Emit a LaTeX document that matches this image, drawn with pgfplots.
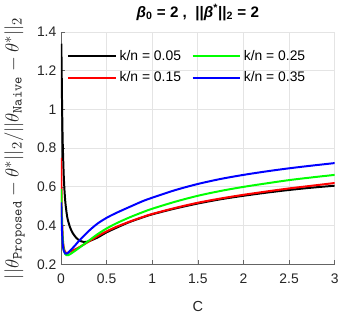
\documentclass[border=0pt]{standalone}
\usepackage{pgfplots}
\pgfplotsset{compat=1.18}
\usepackage{fontspec}
\setmainfont{Liberation Sans}
\definecolor{gridgray}{RGB}{228,228,228}
\definecolor{axgray}{RGB}{100,100,100}
\definecolor{lblgray}{RGB}{38,38,38}

\begin{document}
\begin{tikzpicture}
\begin{axis}[
    scale only axis,
    width=207pt, height=175.5pt,
    xmin=0, xmax=3, ymin=0.2, ymax=1.4,
    xtick={0,0.5,...,3},
    ytick={0.2,0.4,...,1.4},
    xticklabels={0,0.5,1,1.5,2,2.5,3},
    yticklabels={0.2,0.4,0.6,0.8,1,1.2,1.4},
    axis x line*=bottom, axis y line*=left,
    axis line style={axgray, line width=0.6pt},
    tick style={axgray, line width=0.5pt},
    tick align=inside,
    major tick length=3pt,
    grid=major,
    grid style={gridgray, line width=0.6pt},
    ticklabel style={font=\fontsize{10.5}{12}\selectfont, text=lblgray},
    xticklabel style={yshift=-3.5pt},
    /pgf/number format/assume math mode=true,
    xlabel={C},
    xlabel style={font=\fontsize{11}{13}\selectfont, text=lblgray, yshift=-7pt},
    ylabel={$||\theta_{\mathtt{Proposed}} - \theta^{*}||_2/||\theta_{\mathtt{Naive}} - \theta^{*}||_2$},
    ylabel style={font=\fontsize{15}{17}\selectfont, text=lblgray, yshift=2.5pt},
    title={\textbf{\textit{β}\textsubscript{0} = 2 ,\ \ ||\textit{β}\textsuperscript{*}||\textsubscript{2} = 2}},
    title style={font=\fontsize{11.5}{13}\selectfont, yshift=-1pt},
    legend columns=2,
    transpose legend,
    legend style={at={(0.008,0.945)}, anchor=north west, draw=none, fill=none,
        font=\fontsize{10.5}{12}\selectfont, row sep=3pt,
        /tikz/every even column/.append style={column sep=6pt}},
    legend cell align=left,
    legend image code/.code={\draw[#1] (0pt,0pt) -- (36pt,0pt);},
    every axis plot/.append style={line width=1.5pt, smooth, tension=0.5},
]
% k/n = 0.05
\addplot[black] coordinates {
 (0.004,1.34) (0.008,1.18) (0.012,1.02) (0.016,0.9) (0.02,0.81) (0.03,0.66)
 (0.04,0.57) (0.05,0.51) (0.07,0.44) (0.1,0.39) (0.13,0.36) (0.17,0.335)
 (0.2,0.323) (0.25,0.315) (0.3,0.318) (0.4,0.338) (0.5,0.365) (0.6,0.387)
 (0.75,0.418) (0.9,0.443) (1,0.458) (1.25,0.488) (1.5,0.514) (1.75,0.536)
 (2,0.554) (2.25,0.57) (2.5,0.584) (2.75,0.596) (3,0.606)
};
% k/n = 0.15
\addplot[red] coordinates {
 (0.002,0.75) (0.006,0.58) (0.01,0.46) (0.02,0.335) (0.03,0.288) (0.045,0.264)
 (0.06,0.258) (0.08,0.26) (0.1,0.265) (0.15,0.276) (0.2,0.288) (0.3,0.316)
 (0.4,0.345) (0.5,0.37) (0.6,0.392) (0.75,0.42) (0.9,0.445) (1,0.46)
 (1.25,0.491) (1.5,0.518) (1.75,0.54) (2,0.559) (2.25,0.576) (2.5,0.592)
 (2.75,0.606) (3,0.62)
};
% k/n = 0.25
\addplot[green] coordinates {
 (0.002,0.59) (0.006,0.49) (0.01,0.42) (0.02,0.32) (0.03,0.277) (0.045,0.254)
 (0.06,0.247) (0.08,0.247) (0.1,0.252) (0.15,0.268) (0.2,0.285) (0.3,0.32)
 (0.4,0.355) (0.5,0.385) (0.6,0.41) (0.75,0.442) (0.9,0.47) (1,0.487)
 (1.25,0.523) (1.5,0.554) (1.75,0.579) (2,0.6) (2.25,0.618) (2.5,0.635)
 (2.75,0.649) (3,0.662)
};
% k/n = 0.35
\addplot[blue] coordinates {
 (0.002,0.52) (0.006,0.44) (0.01,0.38) (0.02,0.3) (0.03,0.27) (0.045,0.256)
 (0.06,0.255) (0.08,0.26) (0.1,0.27) (0.15,0.295) (0.2,0.322) (0.3,0.37)
 (0.4,0.41) (0.5,0.44) (0.6,0.464) (0.75,0.496) (0.9,0.527) (1,0.544)
 (1.25,0.583) (1.5,0.615) (1.75,0.641) (2,0.662) (2.25,0.68) (2.5,0.696)
 (2.75,0.71) (3,0.723)
};
\legend{k/n = 0.05, k/n = 0.15, k/n = 0.25, k/n = 0.35}
\end{axis}
\end{tikzpicture}
\end{document}
